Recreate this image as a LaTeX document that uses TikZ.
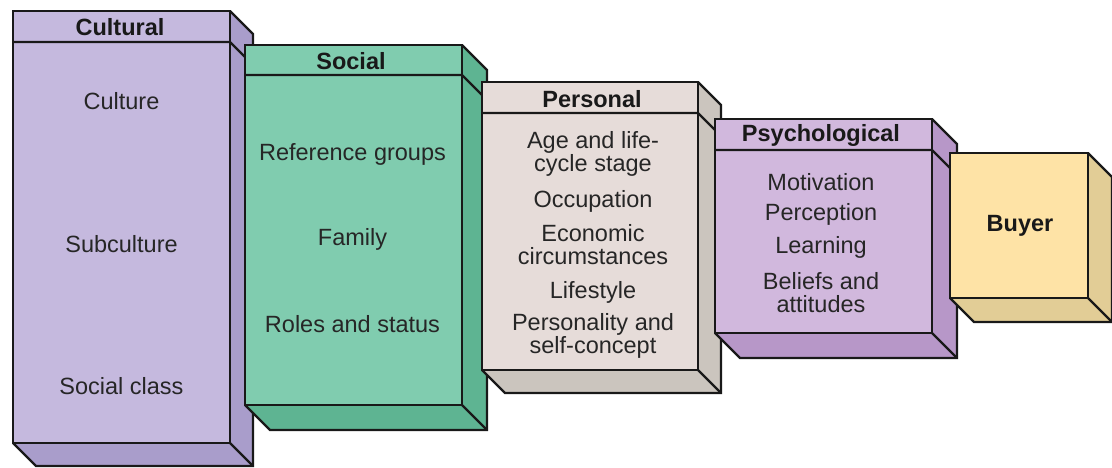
\documentclass[tikz,border=0pt]{standalone}
\usepackage{fontspec}
\setmainfont{Liberation Sans}
\definecolor{culF}{HTML}{C5B9DE}\definecolor{culS}{HTML}{A99DCB}
\definecolor{socF}{HTML}{80CCAF}\definecolor{socS}{HTML}{5EB492}
\definecolor{perF}{HTML}{E6DCD9}\definecolor{perS}{HTML}{CBC5BE}
\definecolor{psyF}{HTML}{D1B8DD}\definecolor{psyS}{HTML}{B797C8}
\definecolor{buyF}{HTML}{FEE3A6}\definecolor{buyS}{HTML}{E2CD96}
\tikzset{
  edge/.style={draw=black!90, line width=2.2pt, line join=miter},
  txt/.style={font=\fontsize{23.5}{23}\selectfont, text=black!85, align=center, inner sep=0pt},
  hdr/.style={font=\bfseries\fontsize{23.5}{23}\selectfont, text=black!90, inner sep=0pt},
}
% #1 x1, #2 y1, #3 x2, #4 y2, #5 depth, #6 front, #7 side, #8 divider y (or empty)
\newcommand{\boxthreed}[8]{%
  \fill[#7] (#3,#2) -- ++(#5,#5) -- (#3+#5,#4+#5) -- (#1+#5,#4+#5) -- (#1,#4) -- (#3,#4) -- cycle;
  \draw[edge] (#3,#2) -- ++(#5,#5) -- (#3+#5,#4+#5) -- (#1+#5,#4+#5) -- (#1,#4);
  \draw[edge] (#3,#4) -- (#3+#5,#4+#5);
  \filldraw[edge, fill=#6] (#1,#2) rectangle (#3,#4);
  \if\relax\detokenize{#8}\relax\else
    \draw[edge] (#1,#8) -- (#3,#8) -- ++(#5,#5);
  \fi
}
\begin{document}
\begin{tikzpicture}[x=1pt,y=-1pt]
\useasboundingbox (0,0) rectangle (1112,468);
% Cultural
\boxthreed{13}{11}{230}{443}{23}{culF}{culS}{42}
\node[hdr] (cul) at (120,27) {Cultural};
\node[txt] (cul1) at (121.5,101) {Culture};
\node[txt] (cul2) at (121.5,244) {Subculture};
\node[txt] (cul3) at (121.5,386) {Social class};
% Social
\boxthreed{245}{45}{462}{405}{25}{socF}{socS}{75}
\node[hdr] (soc) at (351,61) {Social};
\node[txt] (soc1) at (352.5,154) {Reference groups};
\node[txt] (soc2) at (352.5,239) {Family};
\node[txt] (soc3) at (352.5,324) {Roles and status};
% Personal
\boxthreed{482}{82}{698}{370}{23}{perF}{perS}{113}
\node[hdr] (per) at (592,99) {Personal};
\node[txt] (per1) at (593,154) {Age and life-\\cycle stage};
\node[txt] (per2) at (593,201) {Occupation};
\node[txt] (per3) at (593,245) {Economic\\circumstances};
\node[txt] (per4) at (593,292) {Lifestyle};
\node[txt] (per5) at (593,336) {Personality and\\self-concept};
% Psychological
\boxthreed{715}{119}{932}{333}{25}{psyF}{psyS}{150}
\node[hdr] (psy) at (821,135) {Psychological};
\node[txt] (psy1) at (821,182) {Motivation};
\node[txt] (psy2) at (821,214) {Perception};
\node[txt] (psy3) at (821,247) {Learning};
\node[txt] (psy4) at (821,293) {Beliefs and\\attitudes};
% Buyer
\boxthreed{950}{153}{1088}{298}{24}{buyF}{buyS}{}
\node[hdr] (buy) at (1020,226) {Buyer};
\end{tikzpicture}
\end{document}
